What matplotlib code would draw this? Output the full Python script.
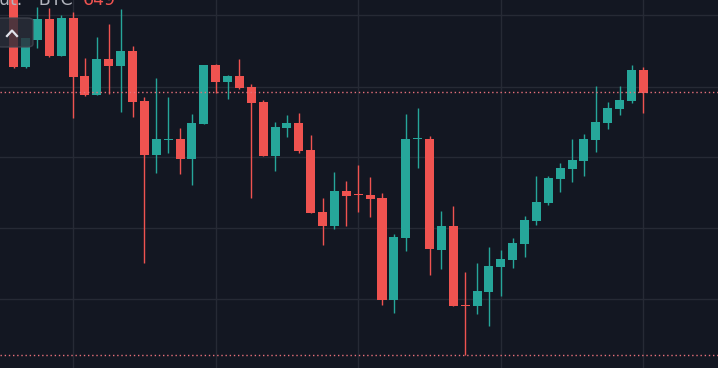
import matplotlib.pyplot as plt
from matplotlib.patches import FancyBboxPatch
from matplotlib.lines import Line2D

# candle prices (arbitrary price units)
opens  = [405, 333, 360, 381, 344, 382, 324, 305, 341, 334, 349, 299, 245, 260.5, 261, 241, 276, 335, 318, 324,
          313, 298, 244, 272, 277, 250, 188, 174, 209, 205.5, 205, 202, 100, 162, 261, 261, 150, 174, 95, 94,
          108, 133, 140, 156, 179, 197, 221, 231, 239, 260, 277, 291, 299, 330]
closes = [333, 362, 381, 344, 382, 323, 305, 341, 334, 349, 298, 245, 261, 261, 241, 277, 335, 318, 324, 312,
          297, 244, 273, 277, 249, 187, 174, 209, 204, 205, 201, 100, 163, 261, 261.5, 151, 174, 94, 94.5, 109,
          134, 141, 157, 180, 198, 222, 232, 240, 261, 278, 292, 300, 330, 307]
highs  = [410, 335, 393, 392, 385, 388, 342, 363, 376, 391, 354, 303, 322, 303, 272, 286, 335, 336, 325, 341,
          316, 300, 278, 285, 287, 265, 202, 228, 219, 235, 223, 207, 166, 286, 292, 264, 189, 194, 128, 137,
          153, 150, 162, 184, 224, 224, 237, 261, 266, 314, 298, 314, 335, 333]
lows   = [332, 332, 352, 343, 344, 282, 304, 305, 306, 288, 283, 137, 227, 247, 226, 215, 276, 307, 301, 311,
          202, 244, 229, 263, 247, 187, 155, 171, 174, 188, 183, 95, 87, 149, 232, 125, 131, 94, 45, 86,
          74, 104, 132, 143, 175, 195, 208, 218, 224, 248, 271, 285, 297, 287]

v_grid = [5, 17, 29, 41, 53]
h_grid = [385, 313.5, 242.7, 171.7, 101.5]
price_lines = [308, 44.7]

bg = '#131722'
up_col = '#26a69a'
down_col = '#ef5350'

fig = plt.figure(figsize=(7.18, 3.68), dpi=100, facecolor=bg)
ax = fig.add_axes([0, 0, 1, 1], facecolor=bg)

for g in v_grid:
    ax.axvline(g, color='#262a35', lw=1, zorder=0)
for g in h_grid:
    ax.axhline(g, color='#262a35', lw=1, zorder=0)

w = 0.76
for i in range(len(opens)):
    o, c, h, l = opens[i], closes[i], highs[i], lows[i]
    col = up_col if c >= o else down_col
    ax.vlines(i, l, h, color=col, lw=1, zorder=2)
    body = max(abs(c - o), 1.0)
    ax.bar(i, body, bottom=min(o, c), width=w, color=col, lw=0, zorder=3)

for p in price_lines:
    ax.axhline(p, color='#e8707a', lw=1, ls=(0, (1, 2)), zorder=4)

ax.set_xlim(-1.153, 59.28)
ax.set_ylim(32, 400)
ax.set_xticks([])
ax.set_yticks([])
for s in ax.spines.values():
    s.set_visible(False)

# cut-off legend text and collapse button
W, H = 718.0, 368.0
fig.text(-0.002, 1 - 5 / H, 'ut. \u00b7 BTC', color='#b2b5be', fontsize=12.5, va='baseline')
fig.text(83 / W, 1 - 5 / H, '649', color=down_col, fontsize=12.5, va='baseline')
box = FancyBboxPatch((-4 / W, 1 - 47 / H), 37 / W, 29 / H, boxstyle='round,pad=0,rounding_size=0.008',
                     transform=fig.transFigure, facecolor='#2a2e39', edgecolor='#434651', alpha=0.8, lw=1, zorder=5)
fig.patches.append(box)
fig.lines.append(Line2D([7 / W, 12 / W, 17 / W], [1 - 36 / H, 1 - 30.5 / H, 1 - 36 / H],
                        transform=fig.transFigure, color='#e0e3eb', lw=1.6, zorder=6))

fig.savefig('out.png', dpi=100, facecolor=bg)
